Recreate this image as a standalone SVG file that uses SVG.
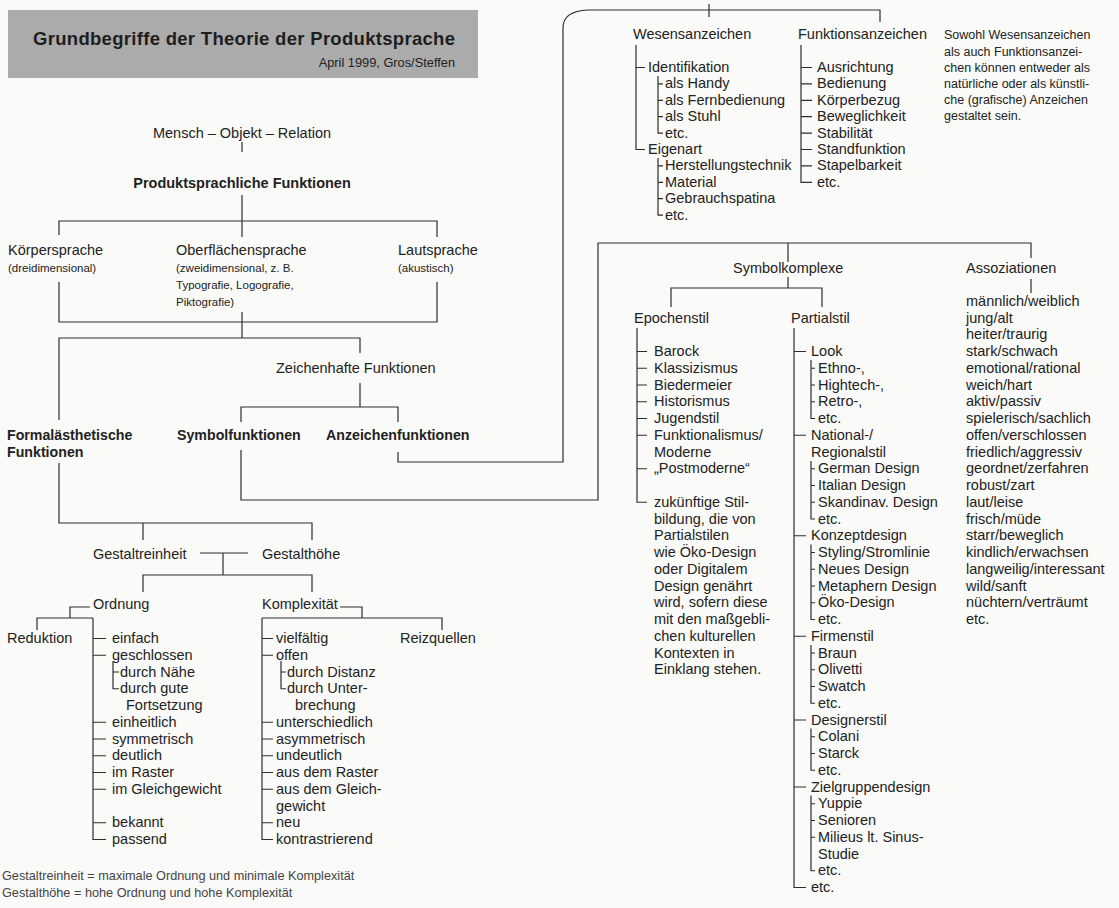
<svg xmlns="http://www.w3.org/2000/svg" width="1119" height="908" viewBox="0 0 1119 908">
<style>
text{font-family:"Liberation Sans",Arial,sans-serif;font-size:14.5px;fill:#222}
.b{font-weight:bold;font-size:14.2px}
.s{font-size:11.5px}
.n{font-size:12.5px}
.d{font-size:12.8px}
.f{font-size:12.7px;fill:#444}
.ttl{font-weight:bold;font-size:18.5px;fill:#1e1e1e}
.ln{stroke:#2e2e2e;stroke-width:1.2;fill:none}
</style>
<rect x="0" y="0" width="1119" height="908" fill="#fafaf8"/>
<g id="header">
<rect x="8" y="10" width="470" height="68" fill="#ababab"/>
<text class="ttl" x="33" y="45" textLength="422" lengthAdjust="spacing">Grundbegriffe der Theorie der Produktsprache</text>
<text class="d" x="455" y="67" text-anchor="end">April 1999, Gros/Steffen</text>
</g>
<g id="connectors" class="ln">
<path d="M242,142 V152 M242,195 V237 M59,235 V221 H437 V237"/>
<path d="M59,282 V322 H437 V282 M242,312 V338"/>
<path d="M59,420 V338 H360 V353 M360,383 V407 M241,422 V407 H398 V422"/>
<path d="M241,450 V500 H598 V243 H1031 V258 M1031,279 V293"/>
<path d="M398,452 V462 H563 V28 Q563,11 588,10 H880 V22 M709,4 V17"/>
<path d="M788,243 V262 M788,277 V288 M671,307 V288 H822 V307"/>
<path d="M59,463 V523 H312 V540 M143,523 V540"/>
<path d="M200,553 H248 M223,553 V575 M143,592 V575 H312 V592"/>
<path d="M90,607 H70 V618 M37,630 V618 H93 M340,607 H362 V618 M262,618 H442 V630"/>
<path d="M93,618 V839.5 H106 M93,638.5 H106 M93,655.25 H106 M93,722.25 H106 M93,739 H106 M93,755.75 H106 M93,772.5 H106 M93,789.25 H106 M93,822.75 H106"/>
<path d="M113,661 V688.75 H119 M113,672 H119"/>
<path d="M262,618 V839.5 H273 M262,638.5 H273 M262,655.25 H273 M262,722.25 H273 M262,739 H273 M262,755.75 H273 M262,772.5 H273 M262,789.25 H273 M262,822.75 H273"/>
<path d="M281,661 V688.75 H286 M281,672 H286"/>
<path d="M636,45 V149.5 H645 M636,67.5 H645 M658,76 V133.1 H663 M658,83.9 H663 M658,100.3 H663 M658,116.7 H663 M658,158 V215.1 H663 M658,165.9 H663 M658,182.3 H663 M658,198.7 H663"/>
<path d="M801,45 V182.3 H812 M801,67.5 H812 M801,83.9 H812 M801,100.3 H812 M801,116.7 H812 M801,133.1 H812 M801,149.5 H812 M801,165.9 H812"/>
<path d="M637,328 V502.25 H647 M637,351.5 H647 M637,368.25 H647 M637,385 H647 M637,401.75 H647 M637,418.5 H647 M637,435.25 H647 M637,468.75 H647"/>
<path d="M794,328 V887.5 H806 M794,351.5 H806 M794,435.25 H806 M794,535.75 H806 M794,636.25 H806 M794,720 H806 M794,787 H806"/>
<path d="M811,360 V418.5 H815 M811,368.25 H815 M811,385 H815 M811,401.75 H815"/>
<path d="M811,461 V519 H815 M811,468.75 H815 M811,485.5 H815 M811,502.25 H815"/>
<path d="M811,544.5 V619.5 H815 M811,552.5 H815 M811,569.25 H815 M811,586 H815 M811,602.75 H815"/>
<path d="M811,645 V703.25 H815 M811,653 H815 M811,669.75 H815 M811,686.5 H815"/>
<path d="M811,728.5 V770.25 H815 M811,736.75 H815 M811,753.5 H815"/>
<path d="M811,795.5 V870.75 H815 M811,803.75 H815 M811,820.5 H815 M811,837.25 H815"/>
</g>
<g id="mensch"><text x="242" y="138" text-anchor="middle">Mensch – Objekt – Relation</text></g>
<g id="produktsprachliche"><text class="b" x="242" y="188" text-anchor="middle" style="font-size:14.5px">Produktsprachliche Funktionen</text></g>
<g id="koerpersprache"><text x="8" y="255">Körpersprache</text><text class="s" x="8" y="272">(dreidimensional)</text></g>
<g id="oberflaechensprache"><text x="176" y="255">Oberflächensprache</text><text class="s" x="176" y="272">(zweidimensional, z. B.</text><text class="s" x="176" y="289">Typografie, Logografie,</text><text class="s" x="176" y="306">Piktografie)</text></g>
<g id="lautsprache"><text x="398" y="255">Lautsprache</text><text class="s" x="398" y="272">(akustisch)</text></g>
<g id="zeichenhafte"><text x="276" y="373">Zeichenhafte Funktionen</text></g>
<g id="formal"><text class="b" x="7" y="440">Formalästhetische</text><text class="b" x="7" y="456.5">Funktionen</text></g>
<g id="symbolfunktionen"><text class="b" x="177" y="440">Symbolfunktionen</text></g>
<g id="anzeichenfunktionen"><text class="b" x="326" y="440">Anzeichenfunktionen</text></g>
<g id="gestaltreinheit"><text x="93" y="559">Gestaltreinheit</text></g>
<g id="gestalthoehe"><text x="262" y="559">Gestalthöhe</text></g>
<g id="reduktion"><text x="7" y="643">Reduktion</text></g>
<g id="reizquellen"><text x="400" y="643">Reizquellen</text></g>
<g id="ordnung">
<text x="93" y="609">Ordnung</text>
<text x="112" y="643">einfach</text>
<text x="112" y="659.75">geschlossen</text>
<text x="120" y="676.5">durch Nähe</text>
<text x="120" y="693.25">durch gute</text>
<text x="126" y="710">Fortsetzung</text>
<text x="112" y="726.75">einheitlich</text>
<text x="112" y="743.5">symmetrisch</text>
<text x="112" y="760.25">deutlich</text>
<text x="112" y="777">im Raster</text>
<text x="112" y="793.75">im Gleichgewicht</text>
<text x="112" y="827.25">bekannt</text>
<text x="112" y="844">passend</text>
</g>
<g id="komplexitaet">
<text x="262" y="609">Komplexität</text>
<text x="276" y="643">vielfältig</text>
<text x="276" y="659.75">offen</text>
<text x="287" y="676.5">durch Distanz</text>
<text x="287" y="693.25">durch Unter-</text>
<text x="295" y="710">brechung</text>
<text x="276" y="726.75">unterschiedlich</text>
<text x="276" y="743.5">asymmetrisch</text>
<text x="276" y="760.25">undeutlich</text>
<text x="276" y="777">aus dem Raster</text>
<text x="276" y="793.75">aus dem Gleich-</text>
<text x="276" y="810.5">gewicht</text>
<text x="276" y="827.25">neu</text>
<text x="276" y="844">kontrastrierend</text>
</g>
<g id="footnote">
<text class="f" x="2" y="880">Gestaltreinheit = maximale Ordnung und minimale Komplexität</text>
<text class="f" x="2" y="897">Gestalthöhe = hohe Ordnung und hohe Komplexität</text>
</g>
<g id="wesensanzeichen">
<text x="633" y="39">Wesensanzeichen</text>
<text x="648" y="72">Identifikation</text>
<text x="665" y="88.4">als Handy</text>
<text x="665" y="104.8">als Fernbedienung</text>
<text x="665" y="121.2">als Stuhl</text>
<text x="665" y="137.6">etc.</text>
<text x="648" y="154">Eigenart</text>
<text x="665" y="170.4">Herstellungstechnik</text>
<text x="665" y="186.8">Material</text>
<text x="665" y="203.2">Gebrauchspatina</text>
<text x="665" y="219.6">etc.</text>
</g>
<g id="funktionsanzeichen">
<text x="798" y="39">Funktionsanzeichen</text>
<text x="817" y="72">Ausrichtung</text>
<text x="817" y="88.4">Bedienung</text>
<text x="817" y="104.8">Körperbezug</text>
<text x="817" y="121.2">Beweglichkeit</text>
<text x="817" y="137.6">Stabilität</text>
<text x="817" y="154">Standfunktion</text>
<text x="817" y="170.4">Stapelbarkeit</text>
<text x="817" y="186.8">etc.</text>
</g>
<g id="note">
<text class="n" x="944" y="39">Sowohl Wesensanzeichen</text>
<text class="n" x="944" y="55.5">als auch Funktionsanzei-</text>
<text class="n" x="944" y="72">chen können entweder als</text>
<text class="n" x="944" y="88">natürliche oder als künstli-</text>
<text class="n" x="944" y="104">che (grafische) Anzeichen</text>
<text class="n" x="944" y="120">gestaltet sein.</text>
</g>
<g id="symbolkomplexe"><text x="733" y="273">Symbolkomplexe</text></g>
<g id="epochenstil">
<text x="634" y="322.5">Epochenstil</text>
<text x="654" y="356">Barock</text>
<text x="654" y="372.75">Klassizismus</text>
<text x="654" y="389.5">Biedermeier</text>
<text x="654" y="406.25">Historismus</text>
<text x="654" y="423">Jugendstil</text>
<text x="654" y="439.75">Funktionalismus/</text>
<text x="654" y="456.5">Moderne</text>
<text x="654" y="473.25">„Postmoderne“</text>
<text x="654" y="506.75">zukünftige Stil-</text>
<text x="654" y="523.5">bildung, die von</text>
<text x="654" y="540.25">Partialstilen</text>
<text x="654" y="557">wie Öko-Design</text>
<text x="654" y="573.75">oder Digitalem</text>
<text x="654" y="590.5">Design genährt</text>
<text x="654" y="607.25">wird, sofern diese</text>
<text x="654" y="624">mit den maßgebli-</text>
<text x="654" y="640.75">chen kulturellen</text>
<text x="654" y="657.5">Kontexten in</text>
<text x="654" y="674.25">Einklang stehen.</text>
</g>
<g id="partialstil">
<text x="791" y="322.5">Partialstil</text>
<text x="811" y="356">Look</text>
<text x="818" y="372.75">Ethno-,</text>
<text x="818" y="389.5">Hightech-,</text>
<text x="818" y="406.25">Retro-,</text>
<text x="818" y="423">etc.</text>
<text x="811" y="439.75">National-/</text>
<text x="811" y="456.5">Regionalstil</text>
<text x="818" y="473.25">German Design</text>
<text x="818" y="490">Italian Design</text>
<text x="818" y="506.75">Skandinav. Design</text>
<text x="818" y="523.5">etc.</text>
<text x="811" y="540.25">Konzeptdesign</text>
<text x="818" y="557">Styling/Stromlinie</text>
<text x="818" y="573.75">Neues Design</text>
<text x="818" y="590.5">Metaphern Design</text>
<text x="818" y="607.25">Öko-Design</text>
<text x="818" y="624">etc.</text>
<text x="811" y="640.75">Firmenstil</text>
<text x="818" y="657.5">Braun</text>
<text x="818" y="674.25">Olivetti</text>
<text x="818" y="691">Swatch</text>
<text x="818" y="707.75">etc.</text>
<text x="811" y="724.5">Designerstil</text>
<text x="818" y="741.25">Colani</text>
<text x="818" y="758">Starck</text>
<text x="818" y="774.75">etc.</text>
<text x="811" y="791.5">Zielgruppendesign</text>
<text x="818" y="808.25">Yuppie</text>
<text x="818" y="825">Senioren</text>
<text x="818" y="841.75">Milieus lt. Sinus-</text>
<text x="818" y="858.5">Studie</text>
<text x="818" y="875.25">etc.</text>
<text x="811" y="892">etc.</text>
</g>
<g id="assoziationen">
<text x="966" y="273">Assoziationen</text>
<text x="966" y="305.75">männlich/weiblich</text>
<text x="966" y="322.5">jung/alt</text>
<text x="966" y="339.25">heiter/traurig</text>
<text x="966" y="356">stark/schwach</text>
<text x="966" y="372.75">emotional/rational</text>
<text x="966" y="389.5">weich/hart</text>
<text x="966" y="406.25">aktiv/passiv</text>
<text x="966" y="423">spielerisch/sachlich</text>
<text x="966" y="439.75">offen/verschlossen</text>
<text x="966" y="456.5">friedlich/aggressiv</text>
<text x="966" y="473.25">geordnet/zerfahren</text>
<text x="966" y="490">robust/zart</text>
<text x="966" y="506.75">laut/leise</text>
<text x="966" y="523.5">frisch/müde</text>
<text x="966" y="540.25">starr/beweglich</text>
<text x="966" y="557">kindlich/erwachsen</text>
<text x="966" y="573.75">langweilig/interessant</text>
<text x="966" y="590.5">wild/sanft</text>
<text x="966" y="607.25">nüchtern/verträumt</text>
<text x="966" y="624">etc.</text>
</g>
</svg>
